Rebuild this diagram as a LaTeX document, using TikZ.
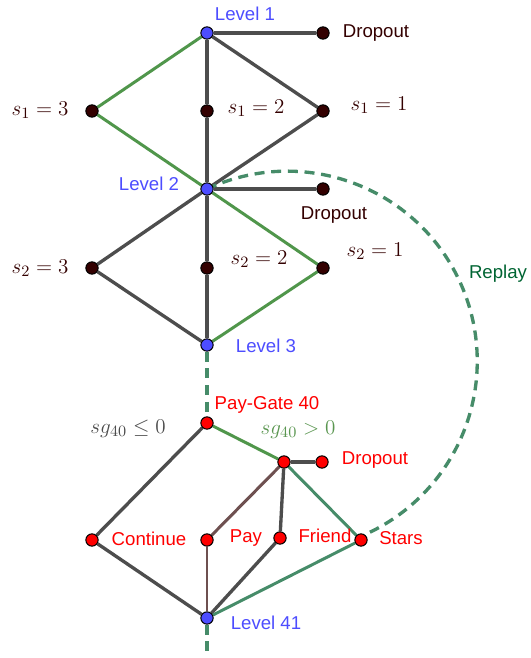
\documentclass[tikz,border=0pt]{standalone}
\usepackage{amsmath,amssymb}
\usepackage{fontspec}
\newfontfamily\lblfont{Liberation Sans}
\usepackage{tikz}
\usetikzlibrary{backgrounds}
\definecolor{lvlblue}{RGB}{77,77,255}
\definecolor{ptdark}{RGB}{51,0,0}
\definecolor{edgegray}{RGB}{77,77,77}
\definecolor{pickgreen}{RGB}{80,150,75}
\definecolor{replayteal}{RGB}{70,140,105}
\definecolor{paybrown}{RGB}{110,80,80}
\definecolor{replaytxt}{RGB}{0,100,50}
\definecolor{sgtxt}{RGB}{90,150,80}
\tikzset{
  pt/.style={circle,draw=black,line width=0.6pt,inner sep=0pt,minimum size=7pt},
  lvl/.style={pt,fill=lvlblue},
  opt/.style={pt,fill=ptdark},
  gate/.style={pt,fill=red},
  edge/.style={line width=1.9pt,draw=edgegray},
  pick/.style={line width=1.7pt,draw=pickgreen},
  tealedge/.style={line width=1.7pt,draw=replayteal},
  payedge/.style={line width=1.7pt,draw=paybrown},
  replay/.style={line width=1.9pt,draw=replayteal,dash pattern=on 5.7pt off 3.8pt},
  txt/.style={inner sep=0pt,font=\lblfont\fontsize{10.6}{12}\selectfont},
  mth/.style={inner sep=0pt,font=\fontsize{12.6}{14}\selectfont}
}

\begin{document}
\begin{tikzpicture}[x=0.02cm,y=0.02cm]
\useasboundingbox (0,0) rectangle (530,-658);

% upper levels
\node[lvl] (L1) at (207,-33) {};
\node[opt] (D1) at (323,-33) {};
\node[opt] (A3) at (92,-111) {};
\node[opt] (A2) at (207,-111) {};
\node[opt] (A1) at (323,-111) {};
\node[lvl] (L2) at (207,-189) {};
\node[opt] (D2) at (323,-189) {};
\node[opt] (B3) at (92,-268) {};
\node[opt] (B2) at (207,-268) {};
\node[opt] (B1) at (323,-268) {};
\node[lvl] (L3) at (207,-345) {};

% pay-gate
\node[gate] (PG) at (207,-423) {};
\node[gate] (BR) at (284,-462) {};
\node[gate] (D3) at (322,-462) {};
\node[gate] (CO) at (92,-540) {};
\node[gate] (PY) at (207,-540) {};
\node[gate] (FR) at (280,-538) {};
\node[gate] (ST) at (361,-540) {};
\node[lvl] (L41) at (207,-618) {};
\coordinate (bot) at (207,-660);

\node[txt,text=lvlblue] (tL1) at (245,-14) {Level 1};
\node[txt,text=ptdark] (tD1) at (376,-33) {Dropout};
\node[mth,text=ptdark] (tA3) at (40,-110) {$s_1=3$};
\node[mth,text=ptdark] (tA2) at (256,-108) {$s_1=2$};
\node[mth,text=ptdark] (tA1) at (379,-105) {$s_1=1$};
\node[txt,text=lvlblue] (tL2) at (149,-184) {Level 2};
\node[txt,text=ptdark] (tD2) at (334,-215) {Dropout};
\node[mth,text=ptdark] (tB3) at (40,-268) {$s_2=3$};
\node[mth,text=ptdark] (tB2) at (259,-259) {$s_2=2$};
\node[mth,text=ptdark] (tB1) at (375,-251) {$s_2=1$};
\node[txt,text=lvlblue] (tL3) at (266,-346) {Level 3};
\node[txt,text=replaytxt] (tRP) at (498,-274) {Replay};
\node[txt,text=red] (tPG) at (267,-405) {Pay-Gate 40};
\node[mth,text=edgegray] (tLE) at (128,-429) {$sg_{40}\leq 0$};
\node[mth,text=sgtxt] (tGT) at (298,-430) {$sg_{40}>0$};
\node[txt,text=red] (tD3) at (375,-460) {Dropout};
\node[txt,text=red] (tCO) at (149,-539) {Continue};
\node[txt,text=red] (tPY) at (246,-538) {Pay};
\node[txt,text=red] (tFR) at (325,-536) {Friend};
\node[txt,text=red] (tST) at (401,-538) {Stars};
\node[txt,text=lvlblue] (tL41) at (266,-623) {Level 41};

\begin{scope}[on background layer]
\draw[edge] (L1) -- (D1);
\draw[pick] (L1) -- (A3);
\draw[edge] (L1) -- (A2);
\draw[edge] (L1) -- (A1);
\draw[pick] (A3) -- (L2);
\draw[edge] (A2) -- (L2);
\draw[edge] (A1) -- (L2);
\draw[edge] (L2) -- (D2);
\draw[edge] (L2) -- (B3);
\draw[edge] (L2) -- (B2);
\draw[pick] (L2) -- (B1);
\draw[edge] (B3) -- (L3);
\draw[edge] (B2) -- (L3);
\draw[pick] (B1) -- (L3);
\draw[replay] (L3) -- (PG);
\draw[replay] (L2) arc[start angle=115,end angle=-66,radius=3.8cm];

\draw[edge] (PG) -- (CO);
\draw[pick] (PG) -- (BR);
\draw[edge] (BR) -- (D3);
\draw[payedge] (BR) -- (PY);
\draw[edge] (BR) -- (FR);
\draw[tealedge] (BR) -- (ST);
\draw[edge] (CO) -- (L41);
\draw[payedge] (PY) -- (L41);
\draw[edge] (FR) -- (L41);
\draw[tealedge] (ST) -- (L41);
\draw[replay] (L41) -- (bot);
\end{scope}
\end{tikzpicture}
\end{document}
